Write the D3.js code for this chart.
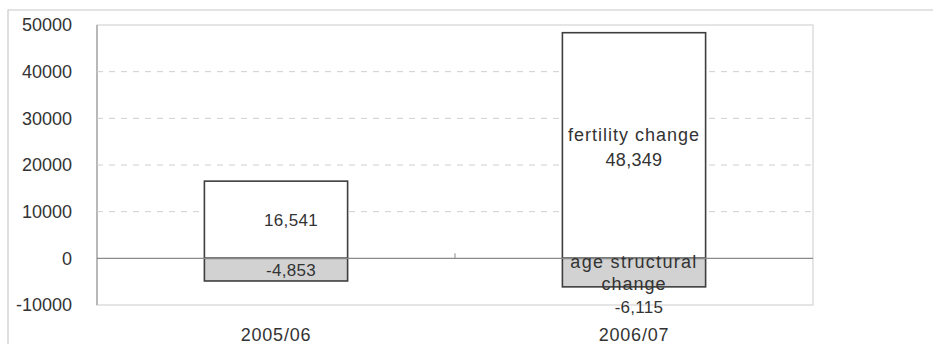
<!DOCTYPE html>
<html>
<head>
<meta charset="utf-8">
<script src="https://cdn.jsdelivr.net/npm/d3@7"></script>
<style>
  html, body { margin: 0; padding: 0; background: #fff; }
  svg { display: block; }
  text { font-family: "Liberation Sans", Arial, sans-serif; fill: #333; }
</style>
</head>
<body>
<svg id="chart" width="933" height="344"></svg>
<script>
// Decomposition of the change in births, by year
const categories = ["2005/06", "2006/07"];
const fertilityChange = [16541, 48349];
const ageStructuralChange = [-4853, -6115];
const yTicks = [-10000, 0, 10000, 20000, 30000, 40000, 50000];

const svg = d3.select("#chart");
const W = 933, H = 344;
const plot = { left: 97, right: 813, top: 25, bottom: 305 };

const x = d3.scaleBand().domain(categories)
  .range([plot.left, plot.right]).paddingInner(0.6).paddingOuter(0.3);
const y = d3.scaleLinear().domain([-10000, 50000])
  .range([plot.bottom, plot.top]);

const fmt = d3.format(",");

// outer frame
svg.append("path")
  .attr("d", `M8,${H} V10 H${W}`)
  .attr("fill", "none").attr("stroke", "#c8c8c8").attr("stroke-width", 1.2);

// plot area frame
svg.append("rect")
  .attr("x", plot.left).attr("y", plot.top)
  .attr("width", plot.right - plot.left).attr("height", plot.bottom - plot.top)
  .attr("fill", "none").attr("stroke", "#d4d4d4").attr("stroke-width", 1.2);
svg.append("line")
  .attr("x1", plot.left).attr("x2", plot.left)
  .attr("y1", plot.top).attr("y2", plot.bottom)
  .attr("stroke", "#9a9a9a").attr("stroke-width", 1.2);

// dashed gridlines
svg.append("g").selectAll("line")
  .data(yTicks.filter(t => t > 0 && t < 50000))
  .join("line")
  .attr("x1", plot.left).attr("x2", plot.right)
  .attr("y1", d => y(d)).attr("y2", d => y(d))
  .attr("stroke", "#cfcfcf").attr("stroke-width", 1)
  .attr("stroke-dasharray", "6,6");

// y axis labels
const yAxis = d3.axisLeft(y).tickValues(yTicks).tickSize(0).tickPadding(25)
  .tickFormat(d => d < 0 ? "-" + Math.abs(d) : String(d));
const gy = svg.append("g").attr("transform", `translate(${plot.left},0)`).call(yAxis);
gy.select(".domain").remove();
gy.selectAll("text").style("font-size", "18px").attr("fill", "#333")
  .attr("font-family", "'Liberation Sans', Arial, sans-serif");

// bars: fertility change (positive) and age structural change (negative)
const bw = x.bandwidth();
svg.append("g").selectAll("rect")
  .data(categories.map((c, i) => ({ c, v: fertilityChange[i] })))
  .join("rect")
  .attr("x", d => x(d.c)).attr("width", bw)
  .attr("y", d => y(d.v)).attr("height", d => y(0) - y(d.v))
  .attr("fill", "#fff").attr("stroke", "#3e3e3e").attr("stroke-width", 1.6);

svg.append("g").selectAll("rect")
  .data(categories.map((c, i) => ({ c, v: ageStructuralChange[i] })))
  .join("rect")
  .attr("x", d => x(d.c)).attr("width", bw)
  .attr("y", y(0)).attr("height", d => y(d.v) - y(0))
  .attr("fill", "#d2d2d2").attr("stroke", "#3e3e3e").attr("stroke-width", 1.6);

// zero line
svg.append("line")
  .attr("x1", plot.left).attr("x2", plot.right)
  .attr("y1", y(0)).attr("y2", y(0))
  .attr("stroke", "#8a8a8a").attr("stroke-width", 1.2);
// category divider tick
svg.append("line")
  .attr("x1", (plot.left + plot.right) / 2).attr("x2", (plot.left + plot.right) / 2)
  .attr("y1", y(0) - 5).attr("y2", y(0))
  .attr("stroke", "#8a8a8a").attr("stroke-width", 1);

// category labels
svg.append("g").selectAll("text")
  .data(categories).join("text")
  .attr("x", d => x(d) + bw / 2).attr("y", 341)
  .attr("text-anchor", "middle").style("font-size", "18px")
  .style("letter-spacing", "0.8px")
  .text(d => d);

const label = (tx, ty, str, size, spacing) =>
  svg.append("text").attr("x", tx).attr("y", ty)
    .attr("text-anchor", "middle").style("font-size", size + "px")
    .style("letter-spacing", spacing + "px")
    .text(str);

// value labels, first year
const c0 = x(categories[0]) + bw / 2 + 15;
label(c0, (y(fertilityChange[0]) + y(0)) / 2 + 6, fmt(fertilityChange[0]), 17, 0.3);
label(c0, (y(ageStructuralChange[0]) + y(0)) / 2 + 6,
  "-" + fmt(Math.abs(ageStructuralChange[0])), 17, 0.3);

// value labels, second year
const c1 = x(categories[1]) + bw / 2;
label(c1, 141, "fertility change", 18, 1);
label(c1, 166, fmt(fertilityChange[1]), 18, 0.3);
label(c1, 268, "age structural", 18, 1.3);
label(c1, 290, "change", 18, 1);
label(c1 + 5, 313, "-" + fmt(Math.abs(ageStructuralChange[1])), 17, 0.3);
</script>
</body>
</html>
